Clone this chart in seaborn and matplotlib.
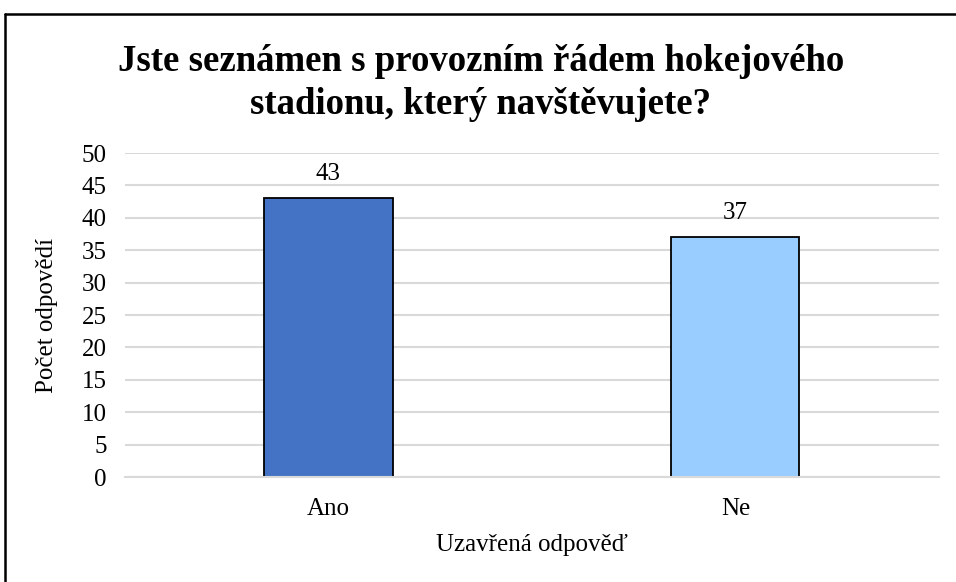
import pandas as pd
import matplotlib.pyplot as plt
import seaborn as sns
from matplotlib.lines import Line2D

# Data
odpovedi = ['Ano', 'Ne']
pocty = [43, 37]
barvy = ['#4472C4', '#99CCFF']

sns.set_theme(style="whitegrid")
plt.rcParams['font.family'] = ['Liberation Serif', 'DejaVu Serif']
plt.rcParams['text.color'] = 'black'
plt.rcParams['axes.labelcolor'] = 'black'

df = pd.DataFrame({'Odpověď': odpovedi, 'Počet': pocty})

fig = plt.figure(figsize=(9.56, 5.82), dpi=100)
ax = fig.add_axes([0.1308, 0.1804, 0.8512, 0.5567])

sns.barplot(data=df, x='Odpověď', y='Počet', hue='Odpověď', palette=barvy,
            dodge=False, legend=False, width=0.315, edgecolor='black',
            linewidth=1.3, ax=ax, saturation=1)

ax.set_ylim(0, 50)
ax.set_yticks(range(0, 51, 5))
ax.set_xlim(-0.5, 1.5)
ax.grid(axis='y', color='#D9D9D9', linewidth=1.5)
ax.grid(axis='x', visible=False)
ax.set_axisbelow(True)
for s in ['left', 'right', 'top']:
    ax.spines[s].set_visible(False)
ax.spines['bottom'].set_color('#D9D9D9')
ax.spines['bottom'].set_linewidth(1.5)
ax.tick_params(axis='both', length=0, labelsize=18, colors='black')
ax.tick_params(axis='x', pad=15)
ax.tick_params(axis='y', pad=13)

for i, v in enumerate(pocty):
    ax.text(i, v + 3.8, str(v), ha='center', va='center', fontsize=18)

ax.set_xlabel('Uzavřená odpověď', fontsize=18, labelpad=10)
ax.set_ylabel('Počet odpovědí', fontsize=18, labelpad=17)

fig.text(0.503, 0.857, 'Jste seznámen s provozním řádem hokejového\nstadionu, který navštěvujete?',
         ha='center', va='center', fontsize=26.5, fontweight='bold', linespacing=1.3)

# ramecek jen nahore a vlevo (jako v originalu)
y_top = 1 - 13.5 / 582
x_left = 4.5 / 956
fig.add_artist(Line2D([x_left, 1], [y_top, y_top], transform=fig.transFigure,
                      color='black', linewidth=1.8))
fig.add_artist(Line2D([x_left, x_left], [0, y_top], transform=fig.transFigure,
                      color='black', linewidth=1.8))

fig.savefig('out.png', dpi=100)
